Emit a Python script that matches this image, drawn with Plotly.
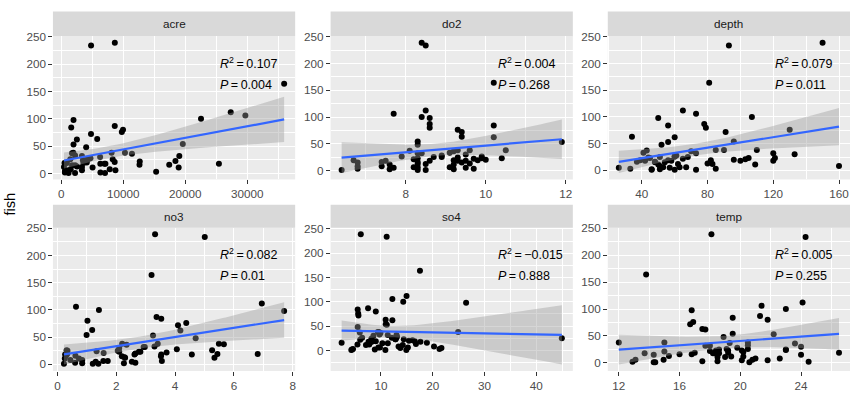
import numpy as np
import plotly.graph_objects as go

# ---------------- data (Maryland streams: longnose dace counts) ----------------
fish = [13, 12, 54, 19, 37, 2, 72, 164, 18, 1, 53, 16, 32, 21, 23, 18, 112, 25, 5, 26,
        8, 15, 11, 11, 87, 33, 22, 98, 1, 5, 1, 38, 30, 12, 24, 6, 15, 38, 84, 3,
        18, 63, 239, 234, 6, 76, 25, 8, 23, 16, 6, 100, 80, 28, 48, 18, 36, 19, 32, 3,
        106, 62, 23, 2, 26, 20, 38, 19]
acre = [2528, 3333, 19611, 3570, 1722, 583, 4790, 35971, 25440, 2217, 1971, 12620, 19046, 8612,
        3896, 6298, 27350, 4145, 1175, 8297, 7814, 1745, 5046, 18943, 8624, 2225, 12659, 1967,
        1172, 639, 7056, 1934, 6260, 424, 3488, 3330, 2227, 8115, 1600, 15305, 7121, 5794, 8636,
        4803, 1097, 9765, 4266, 1507, 3836, 17419, 8735, 22550, 9961, 4706, 4011, 6949, 11405,
        904, 3332, 575, 29708, 2511, 18422, 6311, 1450, 4106, 10274, 510]
do2 = [9.6, 8.5, 8.3, 9.2, 8.1, 9.2, 9.4, 10.2, 7.5, 8.5, 11.9, 8.3, 8.3, 8.2, 10.4, 8.6, 8.5,
       8.7, 7.7, 9.9, 6.8, 9.4, 7.6, 9.2, 8.6, 9.1, 9.7, 8.6, 8.3, 9.5, 6.4, 10.5, 9.5, 8.3,
       9.3, 9.1, 6.8, 9.6, 10.2, 9.7, 9.5, 9.4, 8.4, 8.5, 8.3, 9.3, 8.9, 7.4, 8.3, 7.4, 8.2,
       8.4, 8.6, 8.9, 8.3, 9.3, 9.2, 9.8, 8.4, 6.8, 7.7, 10.2, 9.9, 7.6, 7.9, 10.0, 9.3, 6.7]
depth = [80, 83, 96, 56, 43, 51, 91, 81, 120, 46, 56, 37, 120, 103, 105, 42, 65, 51, 57, 60,
         160, 48, 109, 50, 78, 41, 65, 50, 73, 26, 60, 85, 133, 62, 44, 67, 54, 110, 56, 85,
         58, 34, 150, 93, 53, 130, 68, 51, 121, 48, 63, 107, 79, 61, 52, 100, 70, 39, 73, 33,
         73, 60, 45, 46, 60, 96, 90, 82]
no3 = [2.28, 5.34, 0.99, 5.44, 5.66, 2.26, 4.10, 3.20, 3.53, 1.20, 3.25, 0.61, 2.93, 1.57,
       2.77, 0.26, 6.95, 0.34, 1.30, 5.26, 0.44, 2.19, 0.73, 0.25, 3.37, 3.30, 3.71, 7.71,
       1.39, 2.53, 0.22, 2.20, 2.10, 2.30, 1.33, 3.55, 3.52, 3.41, 3.53, 0.60, 2.62, 1.18,
       3.32, 5.01, 1.71, 4.38, 2.05, 0.84, 2.82, 0.29, 1.56, 1.41, 1.02, 4.06, 4.70, 4.57,
       2.35, 6.81, 2.97, 2.65, 0.63, 4.18, 2.10, 0.84, 0.31, 2.65, 5.49, 0.33]
so4 = [16.75, 7.74, 10.92, 16.53, 5.91, 8.81, 5.65, 17.53, 8.20, 10.85, 11.12, 18.87, 11.31,
       16.09, 12.79, 17.63, 14.94, 44.93, 21.68, 6.36, 20.24, 10.27, 7.10, 14.21, 7.51, 9.72,
       5.98, 26.44, 14.89, 13.74, 4.27, 24.9, 8.54, 5.46, 8.15, 9.5, 11.32, 9.6, 5.5, 21.3,
       8.0, 10.9, 6.1, 11.1, 15.2, 5.6, 12.9, 13.4, 14.4, 2.4, 9.8, 14.3, 9.0, 13.1, 5.5,
       7.6, 9.9, 8.4, 13.0, 4.6, 12.2, 12.2, 12.8, 4.4, 12.1, 15.4, 9.4, 9.0]
temp = [15.3, 19.4, 19.5, 17.0, 19.3, 12.9, 16.7, 13.8, 13.7, 14.3, 22.2, 16.8, 18.0, 15.0,
        18.4, 18.2, 24.1, 23.0, 21.8, 19.1, 22.6, 14.3, 19.0, 18.5, 21.3, 20.5, 18.0, 16.8,
        20.6, 20.1, 14.4, 12.0, 24.0, 20.2, 23.0, 20.8, 24.0, 15.0, 19.5, 18.5, 18.6, 17.5,
        18.1, 24.3, 14.95, 16.9, 18.6, 21.0, 20.1, 16.0, 13.1, 23.0, 21.8, 19.8, 18.9, 18.3,
        23.6, 19.2, 17.7, 17.5, 21.4, 17.7, 19.2, 24.5, 20.5, 20.2, 20.5, 26.5]

panel_names = ["acre", "do2", "depth", "no3", "so4", "temp"]
r2_labels = ["0.107", "0.004", "0.079", "0.082", "\u22120.015", "0.005"]
p_labels = ["0.004", "0.268", "0.011", "0.01", "0.888", "0.255"]
x_ticks = [[0, 10000, 20000, 30000], [8, 10, 12], [40, 80, 120, 160],
           [0, 2, 4, 6, 8], [10, 20, 30, 40], [12, 16, 20, 24]]
y_ticks = [0, 50, 100, 150, 200, 250]
y_title = "fish"

predictors = [acre, do2, depth, no3, so4, temp]

# ---------------- helpers ----------------
def t975(df):
    z = 1.959964
    return (z + (z**3 + z) / (4 * df)
            + (5 * z**5 + 16 * z**3 + 3 * z) / (96 * df**2))


def lm_band(x, y, n_out=80):
    x = np.asarray(x, float)
    y = np.asarray(y, float)
    n = len(x)
    b, a = np.polyfit(x, y, 1)
    xs = np.linspace(x.min(), x.max(), n_out)
    yhat = a + b * xs
    resid = y - (a + b * x)
    s = np.sqrt((resid ** 2).sum() / (n - 2))
    sxx = ((x - x.mean()) ** 2).sum()
    se = s * np.sqrt(1.0 / n + (xs - x.mean()) ** 2 / sxx)
    t = t975(n - 2)
    return xs, yhat, yhat - t * se, yhat + t * se


W, H = 859, 416
col_px = [(53.0, 295.5), (331.0, 573.5), (608.5, 851.0)]
row_px = [(30.7, 176.0), (225.0, 370.3)]
strip_px = [(5.7, 30.7), (201.7, 225.0)]

FONT = "Liberation Sans, Arial, sans-serif"
TICK_FONT = dict(family=FONT, size=11.7, color="#4D4D4D")
THIN = "\u2009"

fig = go.Figure()
layout = dict(
    width=W, height=H,
    margin=dict(l=0, r=0, t=0, b=0),
    paper_bgcolor="white",
    plot_bgcolor="#EBEBEB",
    showlegend=False,
    font=dict(family=FONT),
)
shapes = []
annotations = []

for i, name in enumerate(panel_names):
    k = i + 1
    r, c = divmod(i, 3)
    xk = "x" if k == 1 else f"x{k}"
    yk = "y" if k == 1 else f"y{k}"
    xa = "xaxis" if k == 1 else f"xaxis{k}"
    ya = "yaxis" if k == 1 else f"yaxis{k}"

    x = np.asarray(predictors[i], float)
    y = np.asarray(fish, float)
    xs, yhat, lo, hi = lm_band(x, y)

    # points first, then ribbon on top (as ggplot draws it)
    fig.add_trace(go.Scatter(x=x, y=y, mode="markers", xaxis=xk, yaxis=yk,
                             marker=dict(color="black", size=6, line=dict(width=0)),
                             hoverinfo="skip"))
    fig.add_trace(go.Scatter(x=xs, y=lo, mode="lines", xaxis=xk, yaxis=yk,
                             line=dict(width=0, color="rgba(0,0,0,0)"), hoverinfo="skip"))
    fig.add_trace(go.Scatter(x=xs, y=hi, mode="lines", xaxis=xk, yaxis=yk, fill="tonexty",
                             fillcolor="rgba(153,153,153,0.4)",
                             line=dict(width=0, color="rgba(0,0,0,0)"), hoverinfo="skip"))
    fig.add_trace(go.Scatter(x=xs, y=yhat, mode="lines", xaxis=xk, yaxis=yk,
                             line=dict(color="#3366FF", width=2.2), hoverinfo="skip"))

    xr = x.max() - x.min()
    xrange = [x.min() - 0.05 * xr, x.max() + 0.05 * xr]
    ylo = min(y.min(), lo.min())
    yhi = max(y.max(), hi.max())
    yr = yhi - ylo
    yrange = [ylo - 0.05 * yr, yhi + 0.05 * yr]

    xt = x_ticks[i]
    xstep = xt[1] - xt[0]
    x0, x1 = col_px[c]
    y0, y1 = row_px[r]
    common = dict(showline=False, zeroline=False, showgrid=True, gridcolor="white",
                  gridwidth=1.4, ticks="outside", ticklen=3.7, tickwidth=1.07,
                  tickcolor="#333333", tickfont=TICK_FONT, tickformat="d",
                  fixedrange=True)
    layout[xa] = dict(common, domain=[x0 / W, x1 / W], range=xrange,
                      tickmode="array", tickvals=xt, anchor=yk,
                      minor=dict(tickmode="linear", tick0=xt[0] - xstep / 2, dtick=xstep / 2,
                                 showgrid=True, gridcolor="white", gridwidth=0.7))
    layout[ya] = dict(common, domain=[1 - y1 / H, 1 - y0 / H], range=yrange,
                      tickmode="array", tickvals=y_ticks, anchor=xk,
                      minor=dict(tickmode="linear", tick0=-25, dtick=25,
                                 showgrid=True, gridcolor="white", gridwidth=0.7))

    # strip
    s0, s1 = strip_px[r]
    shapes.append(dict(type="rect", xref="paper", yref="paper",
                       x0=x0 / W, x1=x1 / W, y0=1 - s1 / H, y1=1 - s0 / H,
                       fillcolor="#D9D9D9", line=dict(width=0), layer="below"))
    annotations.append(dict(text=name, xref="paper", yref="paper",
                            x=(x0 + x1) / 2 / W, y=1 - (s0 + s1) / 2 / H,
                            xanchor="center", yanchor="middle", showarrow=False,
                            font=dict(family=FONT, size=11.7, color="#1A1A1A")))
    # statistics labels
    xd = "x domain" if k == 1 else f"x{k} domain"
    yd = "y domain" if k == 1 else f"y{k} domain"
    annotations.append(dict(text=f"<i>R</i><sup>2</sup>{THIN}={THIN}{r2_labels[i]}",
                            xref=xd, yref=yd, x=0.683, y=0.816,
                            xanchor="left", yanchor="middle", showarrow=False,
                            font=dict(family=FONT, size=12.5, color="black")))
    annotations.append(dict(text=f"<i>P</i>{THIN}={THIN}{p_labels[i]}",
                            xref=xd, yref=yd, x=0.683, y=0.662,
                            xanchor="left", yanchor="middle", showarrow=False,
                            font=dict(family=FONT, size=12.5, color="black")))

annotations.append(dict(text=y_title, xref="paper", yref="paper",
                        x=10 / W, y=1 - 200.5 / H, textangle=-90,
                        xanchor="center", yanchor="middle", showarrow=False,
                        font=dict(family=FONT, size=14.7, color="black")))

layout["shapes"] = shapes
layout["annotations"] = annotations
fig.update_layout(**layout)
fig.write_html("out.html", config={"displayModeBar": False},
               post_script="document.body.style.margin='0';document.body.style.overflow='hidden';")
